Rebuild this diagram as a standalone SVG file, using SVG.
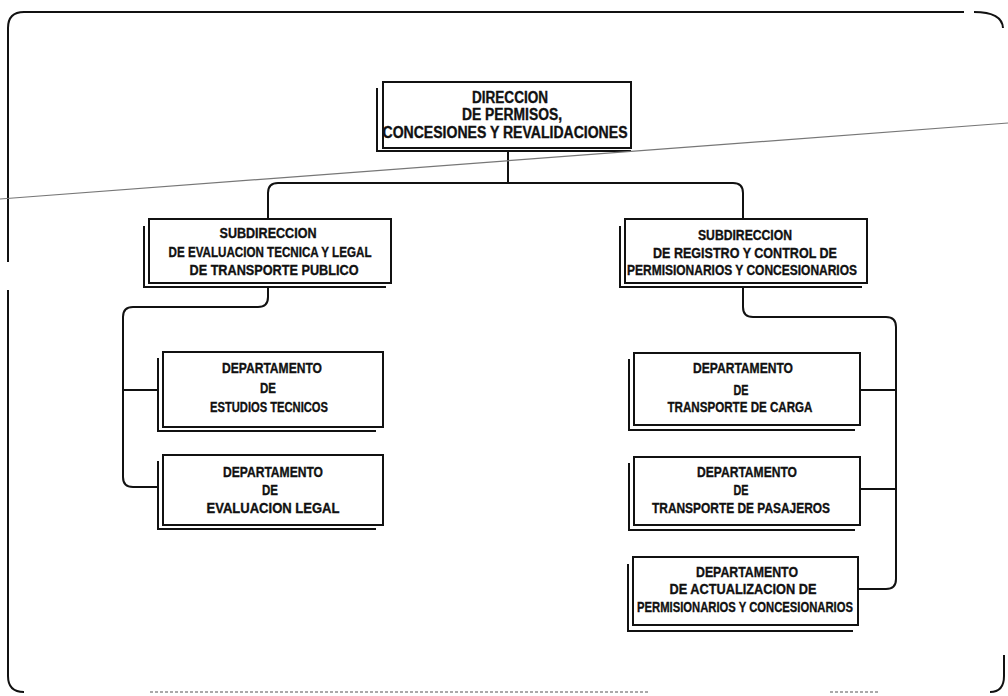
<svg xmlns="http://www.w3.org/2000/svg" width="1008" height="696" viewBox="0 0 1008 696">
<style>
.frame{fill:none;stroke:#111;stroke-width:2}
.box{fill:#fff;stroke:#111;stroke-width:2}
.sh{fill:none;stroke:#111;stroke-width:2}
.con{fill:none;stroke:#111;stroke-width:2}
.diag{stroke:#777;stroke-width:1.2}
text{font-family:"Liberation Sans Narrow","Liberation Sans",Arial,sans-serif;font-weight:bold;fill:#111;stroke:#111;stroke-width:0.35;text-anchor:middle}
.t16{font-size:16px}
.t14{font-size:15px}
</style>
<rect width="1008" height="696" fill="#fff"/>
<g id="frame">
<path class="frame" d="M8,262 L8,28 Q8,12 24,12 L964,12"/>
<path class="frame" d="M974,12 Q1002,12 1003,28"/>
<path class="frame" d="M8,290 L8,676 Q8,692 24,692"/>
<path class="frame" d="M1004,655 L1004,676 Q1004,692 990,692"/>
<path d="M150,692 L650,692 M830,692 L880,692" fill="none" stroke="#555" stroke-width="1.2" stroke-dasharray="3,2"/>
</g>
<g id="connectors">
<path class="con" d="M508,151 L508,183"/>
<path class="con" d="M268,219 L268,193 Q268,183 278,183 L733,183 Q743,183 743,193 L743,219"/>
<path class="con" d="M268,287 L268,297 Q268,307 258,307 L133,307 Q123,307 123,317 L123,477 Q123,487 133,487 L158,487"/>
<path class="con" d="M123,390 L158,390"/>
<path class="con" d="M743,287 L743,307 Q743,317 753,317 L886,317 Q896,317 896,327 L896,579 Q896,589 886,589 L858,589"/>
<path class="con" d="M860,390 L896,390"/>
<path class="con" d="M860,489 L896,489"/>
</g>
<g id="direccion">
<path class="sh" d="M377,88 L377,151 L631,151"/>
<rect class="box" x="383" y="82" width="248" height="66"/>
<text class="t16" x="510" y="103" textLength="76" lengthAdjust="spacingAndGlyphs">DIRECCION</text>
<text class="t16" x="512" y="120" textLength="100" lengthAdjust="spacingAndGlyphs">DE PERMISOS,</text>
<text class="t16" x="505" y="138" textLength="245" lengthAdjust="spacingAndGlyphs">CONCESIONES Y REVALIDACIONES</text>
</g>
<g id="sub-evaluacion">
<path class="sh" d="M144,226 L144,287 L386,287"/>
<rect class="box" x="149" y="219" width="242" height="64"/>
<text class="t14" x="268" y="238" textLength="97" lengthAdjust="spacingAndGlyphs">SUBDIRECCION</text>
<text class="t14" x="270" y="257" textLength="203" lengthAdjust="spacingAndGlyphs">DE EVALUACION TECNICA Y LEGAL</text>
<text class="t14" x="274" y="275" textLength="169" lengthAdjust="spacingAndGlyphs">DE TRANSPORTE PUBLICO</text>
</g>
<g id="sub-registro">
<path class="sh" d="M620,226 L620,287 L862,287"/>
<rect class="box" x="625" y="219" width="242" height="64"/>
<text class="t14" x="745" y="240" textLength="94" lengthAdjust="spacingAndGlyphs">SUBDIRECCION</text>
<text class="t14" x="745" y="258" textLength="184" lengthAdjust="spacingAndGlyphs">DE REGISTRO Y CONTROL DE</text>
<text class="t14" x="742" y="275" textLength="230" lengthAdjust="spacingAndGlyphs">PERMISIONARIOS Y CONCESIONARIOS</text>
</g>
<g id="dep-estudios">
<path class="sh" d="M158,358 L158,431 L376,431"/>
<rect class="box" x="163" y="352" width="220" height="75"/>
<text class="t14" x="272" y="373" textLength="100" lengthAdjust="spacingAndGlyphs">DEPARTAMENTO</text>
<text class="t14" x="268" y="393" textLength="16" lengthAdjust="spacingAndGlyphs">DE</text>
<text class="t14" x="269" y="412" textLength="118" lengthAdjust="spacingAndGlyphs">ESTUDIOS TECNICOS</text>
</g>
<g id="dep-legal">
<path class="sh" d="M158,461 L158,529 L376,529"/>
<rect class="box" x="163" y="455" width="220" height="70"/>
<text class="t14" x="273" y="477" textLength="100" lengthAdjust="spacingAndGlyphs">DEPARTAMENTO</text>
<text class="t14" x="270" y="495" textLength="16" lengthAdjust="spacingAndGlyphs">DE</text>
<text class="t14" x="273" y="513" textLength="133" lengthAdjust="spacingAndGlyphs">EVALUACION LEGAL</text>
</g>
<g id="dep-carga">
<path class="sh" d="M629,359 L629,430 L855,430"/>
<rect class="box" x="634" y="353" width="226" height="72"/>
<text class="t14" x="743" y="373" textLength="100" lengthAdjust="spacingAndGlyphs">DEPARTAMENTO</text>
<text class="t14" x="741" y="395" textLength="15" lengthAdjust="spacingAndGlyphs">DE</text>
<text class="t14" x="740" y="412" textLength="145" lengthAdjust="spacingAndGlyphs">TRANSPORTE DE CARGA</text>
</g>
<g id="dep-pasajeros">
<path class="sh" d="M629,463 L629,530 L855,530"/>
<rect class="box" x="634" y="457" width="226" height="68"/>
<text class="t14" x="747" y="477" textLength="100" lengthAdjust="spacingAndGlyphs">DEPARTAMENTO</text>
<text class="t14" x="741" y="495" textLength="15" lengthAdjust="spacingAndGlyphs">DE</text>
<text class="t14" x="741" y="513" textLength="178" lengthAdjust="spacingAndGlyphs">TRANSPORTE DE PASAJEROS</text>
</g>
<g id="dep-actualizacion">
<path class="sh" d="M628,564 L628,631 L853,631"/>
<rect class="box" x="633" y="557" width="225" height="68"/>
<text class="t14" x="747" y="577" textLength="102" lengthAdjust="spacingAndGlyphs">DEPARTAMENTO</text>
<text class="t14" x="743" y="594" textLength="147" lengthAdjust="spacingAndGlyphs">DE ACTUALIZACION DE</text>
<text class="t14" x="745" y="612" textLength="216" lengthAdjust="spacingAndGlyphs">PERMISIONARIOS Y CONCESIONARIOS</text>
</g>
<line class="diag" x1="0" y1="199" x2="1008" y2="123"/>
</svg>
